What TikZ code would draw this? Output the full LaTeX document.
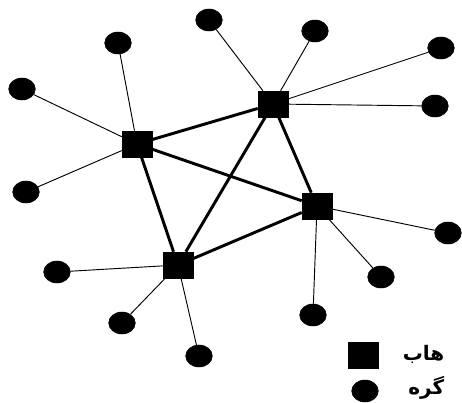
\documentclass[tikz,border=0pt]{standalone}
\usepackage{fontspec}
\newfontfamily\arabicfont[Script=Arabic]{DejaVu Sans}
\TeXXeTstate=1
\tikzset{
  hubnode/.style={draw, fill=black, rectangle, minimum width=22.5pt, minimum height=19.5pt, inner sep=0pt},
  endnode/.style={draw, fill=black, ellipse, minimum width=20pt, minimum height=16.5pt, inner sep=0pt},
  spoke/.style={line width=0.7pt},
  trunk/.style={line width=2.2pt},
  legendtext/.style={anchor=east, font=\arabicfont\bfseries\fontsize{15}{17}\selectfont}
}
\usetikzlibrary{shapes.geometric}
\begin{document}
\begin{tikzpicture}[x=0.75pt, y=-0.75pt]
\useasboundingbox (0,0) rectangle (462,403);

% hubs
\node[hubnode] (h1) at (137,144) {};
\node[hubnode] (h2) at (273,104) {};
\node[hubnode] (h3) at (317,206) {};
\node[hubnode] (h4) at (178,265) {};

% end nodes
\node[endnode] (a1) at (118,43) {};
\node[endnode] (a2) at (22,89) {};
\node[endnode] (a3) at (26,192) {};
\node[endnode] (b1) at (209,20) {};
\node[endnode] (b2) at (315,31) {};
\node[endnode] (b3) at (441,48) {};
\node[endnode] (b4) at (435,106) {};
\node[endnode] (c1) at (448,233) {};
\node[endnode] (c2) at (381,277) {};
\node[endnode] (c3) at (313,315) {};
\node[endnode] (d1) at (57,272) {};
\node[endnode] (d2) at (122,323) {};
\node[endnode] (d3) at (199,356) {};

% spokes
\foreach \e in {a1,a2,a3} \draw[spoke] (h1) -- (\e);
\foreach \e in {b1,b2,b3,b4} \draw[spoke] (h2) -- (\e);
\foreach \e in {c1,c2,c3} \draw[spoke] (h3) -- (\e);
\foreach \e in {d1,d2,d3} \draw[spoke] (h4) -- (\e);

% trunk lines between hubs
\draw[trunk] (h1) -- (h2);
\draw[trunk] (h1) -- (h3);
\draw[trunk] (h1) -- (h4);
\draw[trunk] (h2) -- (h3);
\draw[trunk] (h2) -- (h4);
\draw[trunk] (h3) -- (h4);

% legend
\node[hubnode] (lh) at (363,355) {};
\node[endnode] (le) at (365,391) {};
\node[legendtext] (lht) at (449,354) {\beginR هاب\endR};
\node[legendtext] (let) at (449,388) {\beginR گره\endR};
\end{tikzpicture}
\end{document}
